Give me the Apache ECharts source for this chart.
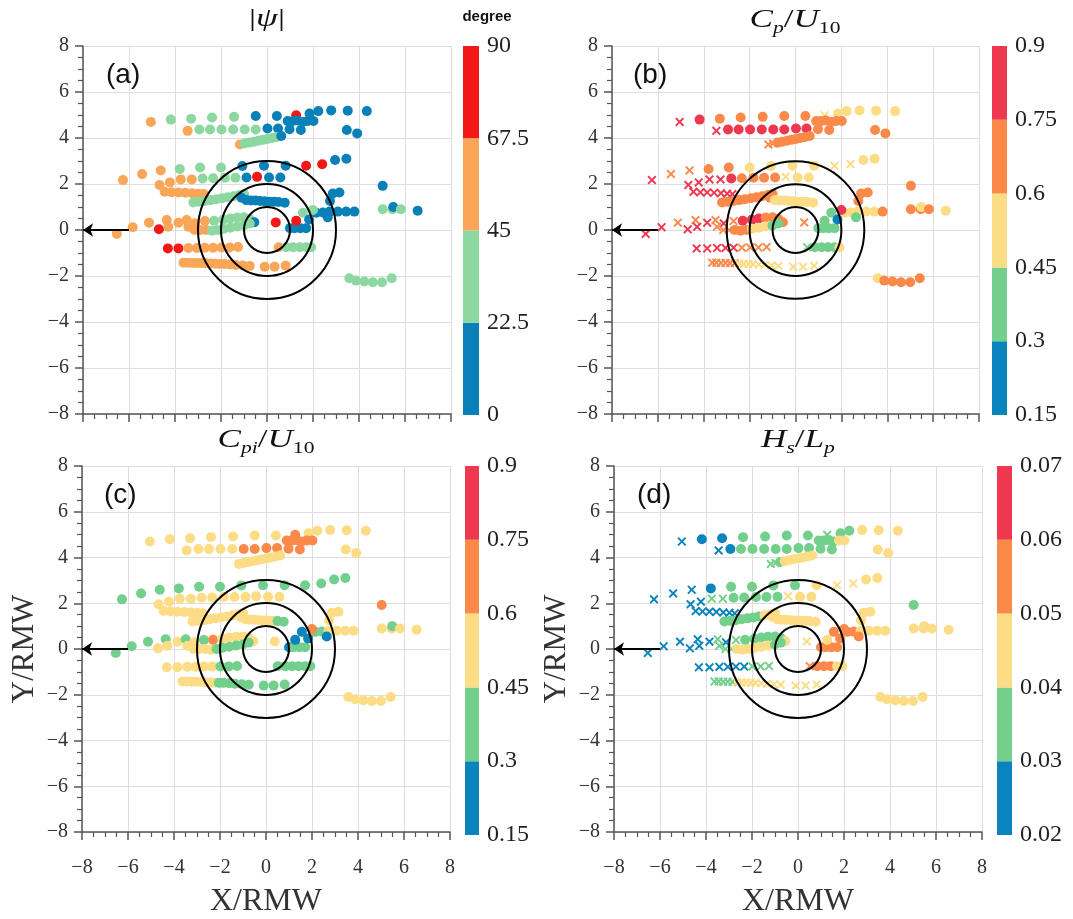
<!DOCTYPE html>
<html><head><meta charset="utf-8">
<script src="https://cdn.jsdelivr.net/npm/echarts@6/dist/echarts.min.js"></script>
<style>html,body{margin:0;padding:0;background:#fff}#c{width:1073px;height:919px}</style>
</head><body><div id="c"></div>
<script>
// ---- point positions (X/RMW, Y/RMW), one line per track ----
const xs = [
-5.05,-4.18,-3.30,-2.39,-1.43,-0.49,0.43,1.27,1.85,2.23,2.79,3.51,4.34,
0.90,1.13,1.33,1.56,1.78,2.02,
-3.45,-2.94,-2.48,-1.98,-1.47,-0.97,-0.49,0.02,0.48,0.98,1.47,3.47,3.92,
-1.18,-0.98,-0.78,-0.58,-0.38,-0.18,0.02,0.22,0.42,0.62,
-6.26,-5.43,-4.62,-3.79,-2.91,-2.00,-1.07,-0.13,0.81,1.70,2.40,2.96,3.45,
-4.67,-4.22,-3.75,-3.27,-2.80,-2.34,-1.83,-1.37,-0.89,-0.43,0.09,0.58,
-4.45,-4.15,-3.85,-3.55,-3.25,-2.98,-2.75,
-3.20,-2.95,-2.70,-2.45,-2.20,-1.95,-1.70,-1.45,-1.20,-1.00,
-1.11,-0.90,-0.70,-0.50,-0.30,-0.10,0.10,0.30,0.50,0.77,
2.86,3.15,2.74,5.03,
2.14,2.43,2.72,3.08,3.44,3.80,
5.03,5.46,5.49,5.82,6.55,
1.00,1.20,1.45,1.70,1.27,1.56,1.83,2.00,2.64,
0.38,
-5.13,-4.36,-3.85,-3.49,-3.13,-2.70,-2.30,-1.90,-1.60,-1.30,-1.00,-0.75,-0.55,
-6.53,-5.84,-4.70,-4.29,-3.42,-3.15,-2.90,-2.65,-2.40,-2.15,-1.90,-1.60,-1.30,-1.00,-0.75,
-4.31,-3.85,-3.42,-3.05,-2.70,-2.34,-1.98,-1.62,-1.26,
0.51,0.84,1.13,1.42,1.70,1.92,
-3.63,-3.45,-3.25,-3.05,-2.85,-2.65,-2.45,-2.25,-2.05,-1.85,-1.60,-1.35,-1.05,-0.75,-0.10,0.33,0.81,
3.58,3.87,4.23,4.60,5.00,5.42
];
const ys = [
4.70,4.80,4.84,4.89,4.92,4.96,4.96,4.99,5.06,5.17,5.20,5.19,5.17,
4.74,4.74,4.76,4.70,4.74,4.74,
4.31,4.37,4.37,4.37,4.37,4.37,4.37,4.41,4.41,4.38,4.35,4.35,4.20,
3.72,3.76,3.80,3.84,3.88,3.92,3.96,4.00,4.04,4.09,
2.17,2.43,2.59,2.65,2.72,2.72,2.78,2.79,2.79,2.79,2.86,3.04,3.10,
1.96,2.07,2.20,2.20,2.24,2.25,2.27,2.27,2.28,2.31,2.28,2.28,
1.66,1.64,1.63,1.62,1.60,1.58,1.56,
1.20,1.23,1.26,1.30,1.34,1.38,1.42,1.47,1.52,1.56,
1.40,1.30,1.28,1.28,1.26,1.25,1.23,1.23,1.22,1.19,
1.59,1.63,1.26,1.92,
0.75,0.76,0.80,0.80,0.80,0.80,
0.90,0.90,1.00,0.90,0.84,
0.08,0.08,0.08,0.08,0.40,0.75,0.46,0.87,0.55,
0.33,
0.32,0.43,0.32,0.43,0.29,0.39,0.40,0.45,0.50,0.54,0.55,0.48,0.34,
-0.17,0.12,0.03,0.14,0.14,0.00,0.00,0.00,-0.03,0.00,0.05,0.10,0.15,0.20,0.28,
-0.80,-0.80,-0.78,-0.78,-0.77,-0.77,-0.76,-0.76,-0.74,
-0.75,-0.75,-0.75,-0.75,-0.75,-0.75,
-1.42,-1.42,-1.43,-1.43,-1.44,-1.45,-1.46,-1.47,-1.48,-1.48,-1.50,-1.52,-1.54,-1.56,-1.60,-1.60,-1.55,
-2.10,-2.20,-2.24,-2.27,-2.27,-2.10
];
// (a) |psi| in degrees
const psi = [
56,34,34,34,34,11,11,79,11,11,11,11,11,
11,11,11,11,11,11,
56,34,34,34,34,34,34,11,11,11,11,11,11,
56,34,34,34,34,34,34,34,34,11,
56,56,56,34,34,34,11,11,11,79,79,11,11,
56,56,56,56,34,34,34,34,11,79,11,11,
56,56,56,56,56,56,56,
34,34,34,34,34,34,34,34,34,34,
11,11,11,11,11,11,11,11,11,11,
11,11,11,11,
11,11,11,11,11,11,
34,34,11,34,11,
11,11,11,11,79,34,11,34,11,
79,
56,56,56,56,56,56,34,34,34,34,34,34,11,
56,56,79,56,56,56,56,56,34,34,34,34,34,34,34,
79,79,56,56,56,56,56,56,56,
56,34,34,34,34,34,
56,56,56,56,56,56,56,56,56,56,56,56,56,56,56,56,56,
34,34,34,34,34,34
];
// (b) Cp/U10
const cpU = [
0.82,0.82,0.68,0.68,0.68,0.68,0.68,0.52,0.52,0.52,0.52,0.52,0.52,
0.68,0.68,0.68,0.68,0.68,0.68,
0.82,0.82,0.82,0.82,0.82,0.82,0.82,0.82,0.82,0.68,0.68,0.68,0.68,
0.68,0.68,0.68,0.68,0.68,0.68,0.68,0.68,0.68,0.68,
0.82,0.68,0.68,0.68,0.68,0.52,0.52,0.52,0.52,0.52,0.52,0.52,0.52,
0.82,0.82,0.82,0.82,0.82,0.68,0.68,0.68,0.68,0.52,0.52,0.52,
0.82,0.82,0.82,0.82,0.82,0.82,0.82,
0.68,0.68,0.68,0.68,0.68,0.68,0.68,0.68,0.68,0.68,
0.68,0.52,0.52,0.52,0.52,0.52,0.52,0.52,0.52,0.52,
0.68,0.68,0.68,0.68,
0.52,0.52,0.52,0.52,0.52,0.68,
0.68,0.68,0.52,0.68,0.52,
0.38,0.38,0.38,0.38,0.38,0.38,0.22,0.82,0.38,
0.68,
0.68,0.68,0.82,0.68,0.82,0.68,0.82,0.82,0.82,0.68,0.68,0.68,0.68,
0.82,0.82,0.82,0.82,0.68,0.68,0.68,0.68,0.68,0.68,0.52,0.52,0.52,0.38,0.38,
0.82,0.82,0.82,0.82,0.82,0.68,0.68,0.68,0.68,
0.38,0.38,0.38,0.38,0.38,0.52,
0.68,0.68,0.68,0.68,0.68,0.68,0.52,0.52,0.52,0.52,0.52,0.52,0.52,0.52,0.52,0.52,0.52,
0.52,0.68,0.68,0.68,0.68,0.68
];
// (c) Cpi/U10
const cpiU = [
0.52,0.52,0.52,0.52,0.52,0.52,0.52,0.68,0.52,0.52,0.52,0.52,0.52,
0.68,0.68,0.68,0.68,0.68,0.68,
0.52,0.52,0.52,0.52,0.52,0.68,0.68,0.68,0.68,0.68,0.68,0.52,0.52,
0.52,0.52,0.52,0.52,0.52,0.52,0.52,0.52,0.52,0.52,
0.38,0.38,0.38,0.38,0.38,0.38,0.38,0.38,0.38,0.38,0.38,0.38,0.38,
0.52,0.52,0.52,0.52,0.52,0.52,0.52,0.52,0.52,0.52,0.52,0.52,
0.52,0.52,0.52,0.52,0.52,0.52,0.52,
0.52,0.52,0.52,0.52,0.52,0.52,0.52,0.52,0.52,0.52,
0.52,0.52,0.52,0.52,0.52,0.52,0.52,0.52,0.38,0.38,
0.52,0.52,0.52,0.68,
0.38,0.38,0.52,0.52,0.52,0.52,
0.52,0.52,0.38,0.52,0.52,
0.22,0.38,0.38,0.38,0.22,0.22,0.22,0.68,0.22,
0.52,
0.38,0.38,0.52,0.38,0.52,0.38,0.68,0.52,0.52,0.52,0.52,0.52,0.52,
0.38,0.38,0.52,0.52,0.52,0.52,0.52,0.52,0.52,0.38,0.38,0.38,0.38,0.38,0.38,
0.52,0.52,0.52,0.52,0.52,0.52,0.38,0.38,0.38,
0.38,0.38,0.38,0.38,0.38,0.38,
0.52,0.52,0.52,0.52,0.52,0.52,0.52,0.52,0.38,0.38,0.38,0.38,0.38,0.38,0.38,0.38,0.38,
0.52,0.52,0.52,0.52,0.52,0.52
];
// (d) Hs/Lp
const hsLp = [
0.025,0.025,0.025,0.035,0.035,0.035,0.035,0.035,0.035,0.035,0.045,0.045,0.045,
0.035,0.035,0.035,0.035,0.045,0.045,
0.025,0.025,0.035,0.035,0.035,0.035,0.035,0.035,0.035,0.035,0.035,0.045,0.045,
0.035,0.035,0.035,0.045,0.045,0.045,0.045,0.045,0.045,0.045,
0.025,0.025,0.025,0.025,0.035,0.035,0.035,0.035,0.045,0.045,0.045,0.045,0.045,
0.025,0.025,0.035,0.035,0.035,0.035,0.035,0.035,0.035,0.045,0.045,0.045,
0.025,0.025,0.025,0.025,0.025,0.025,0.025,
0.035,0.035,0.035,0.035,0.035,0.035,0.035,0.045,0.045,0.045,
0.045,0.045,0.045,0.045,0.045,0.045,0.045,0.045,0.045,0.045,
0.045,0.045,0.045,0.035,
0.055,0.055,0.045,0.045,0.045,0.045,
0.045,0.045,0.045,0.045,0.045,
0.055,0.055,0.055,0.055,0.045,0.055,0.055,0.055,0.055,
0.045,
0.025,0.025,0.025,0.035,0.025,0.035,0.035,0.035,0.035,0.035,0.035,0.035,0.045,
0.025,0.025,0.025,0.025,0.035,0.035,0.035,0.045,0.045,0.045,0.045,0.045,0.045,0.035,0.035,
0.025,0.025,0.025,0.025,0.025,0.025,0.035,0.035,0.035,
0.055,0.055,0.055,0.055,0.045,0.045,
0.035,0.035,0.035,0.035,0.035,0.045,0.045,0.045,0.045,0.045,0.045,0.045,0.045,0.045,0.045,0.045,0.045,
0.045,0.045,0.045,0.045,0.045,0.045
];
// 1 = drawn as a cross in panels (b) and (d)
const swell = [
1,0,0,0,0,0,0,1,0,0,0,0,0,
0,0,0,0,0,0,
1,0,0,0,0,0,0,0,0,0,0,0,0,
1,1,0,0,0,0,0,0,0,0,
1,1,1,0,0,0,0,0,0,1,1,0,0,
1,1,1,1,0,0,0,0,0,1,0,0,
1,1,1,1,1,1,1,
0,0,0,0,0,0,0,0,0,0,
0,0,0,0,0,0,0,0,0,0,
0,0,0,0,
0,0,0,0,0,0,
0,0,0,0,0,
0,0,0,0,0,0,0,0,0,
1,
1,1,1,1,1,1,0,0,0,0,0,0,0,
1,1,1,1,1,1,1,0,0,0,0,0,0,0,0,
1,1,1,1,1,1,1,1,1,
1,0,0,0,0,0,
1,1,1,1,1,1,1,1,1,1,1,1,1,1,1,1,1,
0,0,0,0,0,0
];
// colour-bar boundaries (tick labels)
const psiTicks = [0, 22.5, 45, 67.5, 90];
const cpTicks = [0.15, 0.3, 0.45, 0.6, 0.75, 0.9];
const cpiTicks = [0.15, 0.3, 0.45, 0.6, 0.75, 0.9];
const hsTicks = [0.02, 0.03, 0.04, 0.05, 0.06, 0.07];
const ringRadii = [1, 2, 3];
const arrowFrom = [-6, 0];
const arrowTo = [-8, 0];

// ---- styles ----
const psiColors = ['#0a80b8', '#8dd7a0', '#f9a658', '#f21818'];
const cColors = ['#0a84bd', '#72d08c', '#fddc86', '#fb8a4a', '#ee3850'];
const SERIF = "'Liberation Serif','DejaVu Serif',serif";
const SANS = "'Liberation Sans',Arial,sans-serif";
const crossPath = 'path://M0,1.5L1.5,0L5,3.5L8.5,0L10,1.5L6.5,5L10,8.5L8.5,10L5,6.5L1.5,10L0,8.5L3.5,5Z';

const panels = [
  {vals: psi, ticks: psiTicks, colors: psiColors, cross: false, grid: {left:83, top:46, width:368, height:368}, cb: {left:463, top:46, width:16, height:369}, bottom:false},
  {vals: cpU, ticks: cpTicks, colors: cColors, cross: true, grid: {left:612, top:46, width:367, height:368}, cb: {left:992, top:46, width:15, height:369}, bottom:false},
  {vals: cpiU, ticks: cpiTicks, colors: cColors, cross: false, grid: {left:82, top:466, width:368, height:370}, cb: {left:465, top:466, width:14, height:369}, bottom:true},
  {vals: hsLp, ticks: hsTicks, colors: cColors, cross: true, grid: {left:614, top:466, width:368, height:369}, cb: {left:997, top:466, width:15, height:369}, bottom:true}
];

const grid = [], xAxis = [], yAxis = [], series = [], visualMap = [];
panels.forEach(p => { grid.push(Object.assign({containLabel:false}, p.grid)); });
panels.forEach(p => { grid.push(Object.assign({containLabel:false}, p.cb)); });

const minusFmt = v => (v < 0 ? '\u2212' + (-v) : String(v));
const axisCommon = (showLabel, margin) => ({
  type: 'value', min: -8, max: 8, interval: 2,
  axisLine: {show: true, onZero: false, lineStyle: {color: '#555', width: 1.5}},
  axisTick: {show: true, inside: false, length: 8, lineStyle: {color: '#555', width: 1.5}},
  minorTick: {show: true, splitNumber: 4, length: 5, lineStyle: {color: '#555', width: 1.2}},
  splitLine: {show: true, showMinLine: true, showMaxLine: true, lineStyle: {color: '#dedede', width: 1}},
  axisLabel: {show: showLabel, fontFamily: SERIF, fontSize: 20, color: '#333', margin: margin, formatter: minusFmt}
});

panels.forEach((p, k) => {
  const xa = axisCommon(p.bottom, 26);
  xa.gridIndex = k; xa.position = 'bottom';
  if (p.bottom) {
    Object.assign(xa, {name: 'X/RMW', nameLocation: 'middle', nameGap: 54,
      nameTextStyle: {fontFamily: SERIF, fontSize: 32, color: '#333'}});
  }
  xAxis.push(xa);
  const ya = axisCommon(true, 14);
  ya.gridIndex = k; ya.position = 'left';
  if (p.bottom) {
    Object.assign(ya, {name: 'Y/RMW', nameLocation: 'middle', nameGap: 42, nameRotate: 90,
      nameTextStyle: {fontFamily: SERIF, fontSize: 31, color: '#333'}});
  }
  yAxis.push(ya);
});
panels.forEach((p, k) => {
  const t = p.ticks;
  xAxis.push({type: 'value', gridIndex: 4 + k, min: 0, max: 1, show: false});
  yAxis.push({type: 'value', gridIndex: 4 + k, min: t[0], max: t[t.length - 1], interval: t[1] - t[0],
    position: 'right', axisLine: {show: false}, axisTick: {show: false}, splitLine: {show: false},
    axisLabel: {fontFamily: SERIF, fontSize: 24, color: '#222', margin: 8,
      formatter: v => String(+v.toFixed(4))}});
});

panels.forEach((p, k) => {
  const data = xs.map((x, i) => {
    const item = {value: [x, ys[i], p.vals[i]]};
    if (p.cross && swell[i]) { item.symbol = crossPath; item.symbolSize = 9; }
    return item;
  });
  series.push({type: 'scatter', xAxisIndex: k, yAxisIndex: k, symbol: 'circle', symbolSize: 10,
    data: data, itemStyle: {opacity: 1}, z: 3, animation: false});
  visualMap.push({type: 'piecewise', show: false, seriesIndex: series.length - 1, dimension: 2,
    pieces: p.colors.map((c, j) => ({min: p.ticks[j], max: p.ticks[j + 1], color: c}))});
  series.push({type: 'custom', xAxisIndex: k, yAxisIndex: k, z: 5, silent: true, animation: false,
    data: ringRadii.map(r => [0, 0, r]),
    renderItem: (params, api) => {
      const c = api.coord([api.value(0), api.value(1)]);
      const r = api.size([api.value(2), 0])[0];
      return {type: 'circle', shape: {cx: c[0], cy: c[1], r: r},
        style: {fill: 'none', stroke: '#000', lineWidth: 2}};
    }});
  series.push({type: 'lines', coordinateSystem: 'cartesian2d', xAxisIndex: k, yAxisIndex: k, z: 6,
    symbol: ['none', 'arrow'], symbolSize: 10, animation: false,
    lineStyle: {color: '#000', width: 2, opacity: 1, curveness: 0},
    data: [{coords: [arrowFrom, arrowTo]}]});
  // colour bar
  const bins = p.colors.map((c, j) => [p.ticks[j], p.ticks[j + 1]]);
  series.push({type: 'custom', xAxisIndex: 4 + k, yAxisIndex: 4 + k, silent: true, animation: false,
    data: bins,
    renderItem: (params, api) => {
      const a = api.coord([0, api.value(1)]);
      const b = api.coord([1, api.value(0)]);
      return {type: 'rect', shape: {x: a[0], y: a[1], width: b[0] - a[0], height: b[1] - a[1]},
        style: {fill: p.colors[params.dataIndex], stroke: null}};
    }});
});

const richT = {
  i: {fontFamily: SERIF, fontStyle: 'italic', fontSize: 26, lineHeight: 34, verticalAlign: 'middle', fill: '#111'},
  n: {fontFamily: SERIF, fontSize: 26, lineHeight: 34, verticalAlign: 'middle', fill: '#111'},
  si: {fontFamily: SERIF, fontStyle: 'italic', fontSize: 16, lineHeight: 14, verticalAlign: 'bottom', fill: '#111'},
  s: {fontFamily: SERIF, fontSize: 16, lineHeight: 14, verticalAlign: 'bottom', fill: '#111'}
};
const title = (x, y, t) => ({type: 'text', x: x, y: y, z: 10, scaleX: 1.35,
  style: {text: t, rich: richT, align: 'center', verticalAlign: 'middle'}});
const label = (x, y, t) => ({type: 'text', x: x, y: y, z: 10,
  style: {text: t, fontFamily: SANS, fontSize: 28, fill: '#111', align: 'left', verticalAlign: 'middle'}});

const graphic = [
  title(267, 19, '{n||}{i|ψ}{n||}'),
  title(795, 20, '{i|C}{si|p}{n|/}{i|U}{s|10}'),
  title(266, 440, '{i|C}{si|pi}{n|/}{i|U}{s|10}'),
  title(798, 440, '{i|H}{si|s}{n|/}{i|L}{si|p}'),
  {type: 'text', x: 487, y: 17, z: 10, style: {text: 'degree', fontFamily: SANS, fontWeight: 'bold', fontSize: 15, fill: '#111', align: 'center', verticalAlign: 'middle'}},
  label(106, 75, '(a)'), label(633, 75, '(b)'), label(104, 495, '(c)'), label(637, 495, '(d)')
];

const chart = echarts.init(document.getElementById('c'), null, {renderer: 'canvas'});
chart.setOption({animation: false, backgroundColor: '#fff', grid, xAxis, yAxis, series, visualMap, graphic});
</script></body></html>
